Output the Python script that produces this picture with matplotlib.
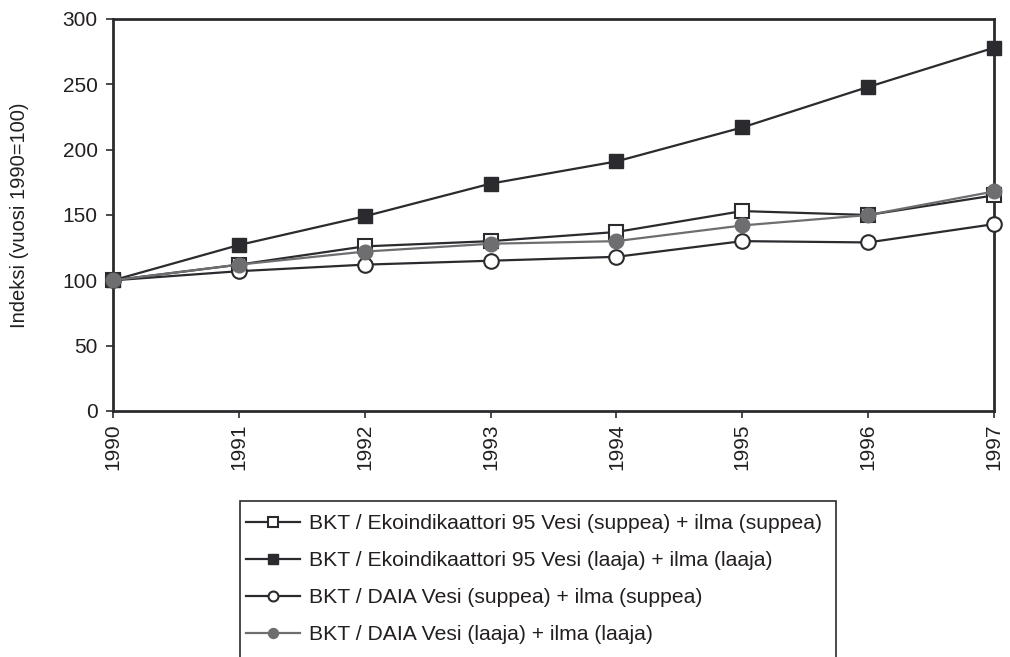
import matplotlib
matplotlib.use('Agg')
from matplotlib import pyplot as plt
from matplotlib.patches import Rectangle

plt.rcParams['font.family'] = ['Liberation Sans', 'DejaVu Sans']

# data
years = [1990, 1991, 1992, 1993, 1994, 1995, 1996, 1997]
eko_suppea = [100, 112, 126, 130, 137, 153, 150, 165]
eko_laaja = [100, 127, 149, 174, 191, 217, 248, 278]
daia_suppea = [100, 107, 112, 115, 118, 130, 129, 143]
daia_laaja = [100, 112, 122, 128, 130, 142, 150, 168]

labels = ['BKT / Ekoindikaattori 95 Vesi (suppea) + ilma (suppea)',
          'BKT / Ekoindikaattori 95 Vesi (laaja) + ilma (laaja)',
          'BKT / DAIA Vesi (suppea) + ilma (suppea)',
          'BKT / DAIA Vesi (laaja) + ilma (laaja)']

dark = '#2b2a2e'
grey = '#6e6e70'
txt = '#231f20'

fig = plt.figure(figsize=(10.10, 6.57), dpi=100)
ax = fig.add_axes([113/1010, 1 - 411/657, (994-113)/1010, (411-19)/657])

ax.plot(years, eko_suppea, color=dark, lw=1.6, marker='s', ms=10.5,
        mfc='white', mec=dark, mew=1.5, label=labels[0], zorder=3)
ax.plot(years, eko_laaja, color=dark, lw=1.6, marker='s', ms=10.5,
        mfc=dark, mec=dark, label=labels[1], zorder=3)
ax.plot(years, daia_suppea, color=dark, lw=1.6, marker='o', ms=10.5,
        mfc='white', mec=dark, mew=1.5, label=labels[2], zorder=3)
ax.plot(years, daia_laaja, color=grey, lw=1.6, marker='o', ms=10.5,
        mfc=grey, mec=grey, label=labels[3], zorder=4)

ax.set_xlim(1990, 1997)
ax.set_ylim(0, 300)
ax.set_yticks(range(0, 301, 50))
ax.set_xticks(years)
ax.set_xticklabels([str(y) for y in years], rotation=90)
ax.tick_params(axis='both', direction='out', length=5, width=1.2,
               color=dark, labelsize=15, labelcolor=txt, pad=4)
ax.tick_params(axis='y', pad=6)
for s in ax.spines.values():
    s.set_color(dark)
    s.set_linewidth(2)
ax.set_ylabel('Indeksi (vuosi 1990=100)', fontsize=14.5, color=txt, labelpad=24)
ax.margins(0)
for m in ax.get_lines():
    m.set_clip_on(False)

# legend box that runs past the bottom edge
fig.patches.append(Rectangle((240/1010, -0.05), (836-240)/1010, 0.05 + (657-501)/657,
                             transform=fig.transFigure, fill=False,
                             ec=dark, lw=1.2))
fig.legend(loc='upper left', bbox_to_anchor=(229/1010, 1 - 497/657),
           frameon=False, fontsize=15.2, markerscale=0.68, handlelength=2.55,
           handletextpad=0.45, labelspacing=0.86, borderpad=0.3,
           labelcolor=txt)

plt.savefig('out.png', dpi=100)
